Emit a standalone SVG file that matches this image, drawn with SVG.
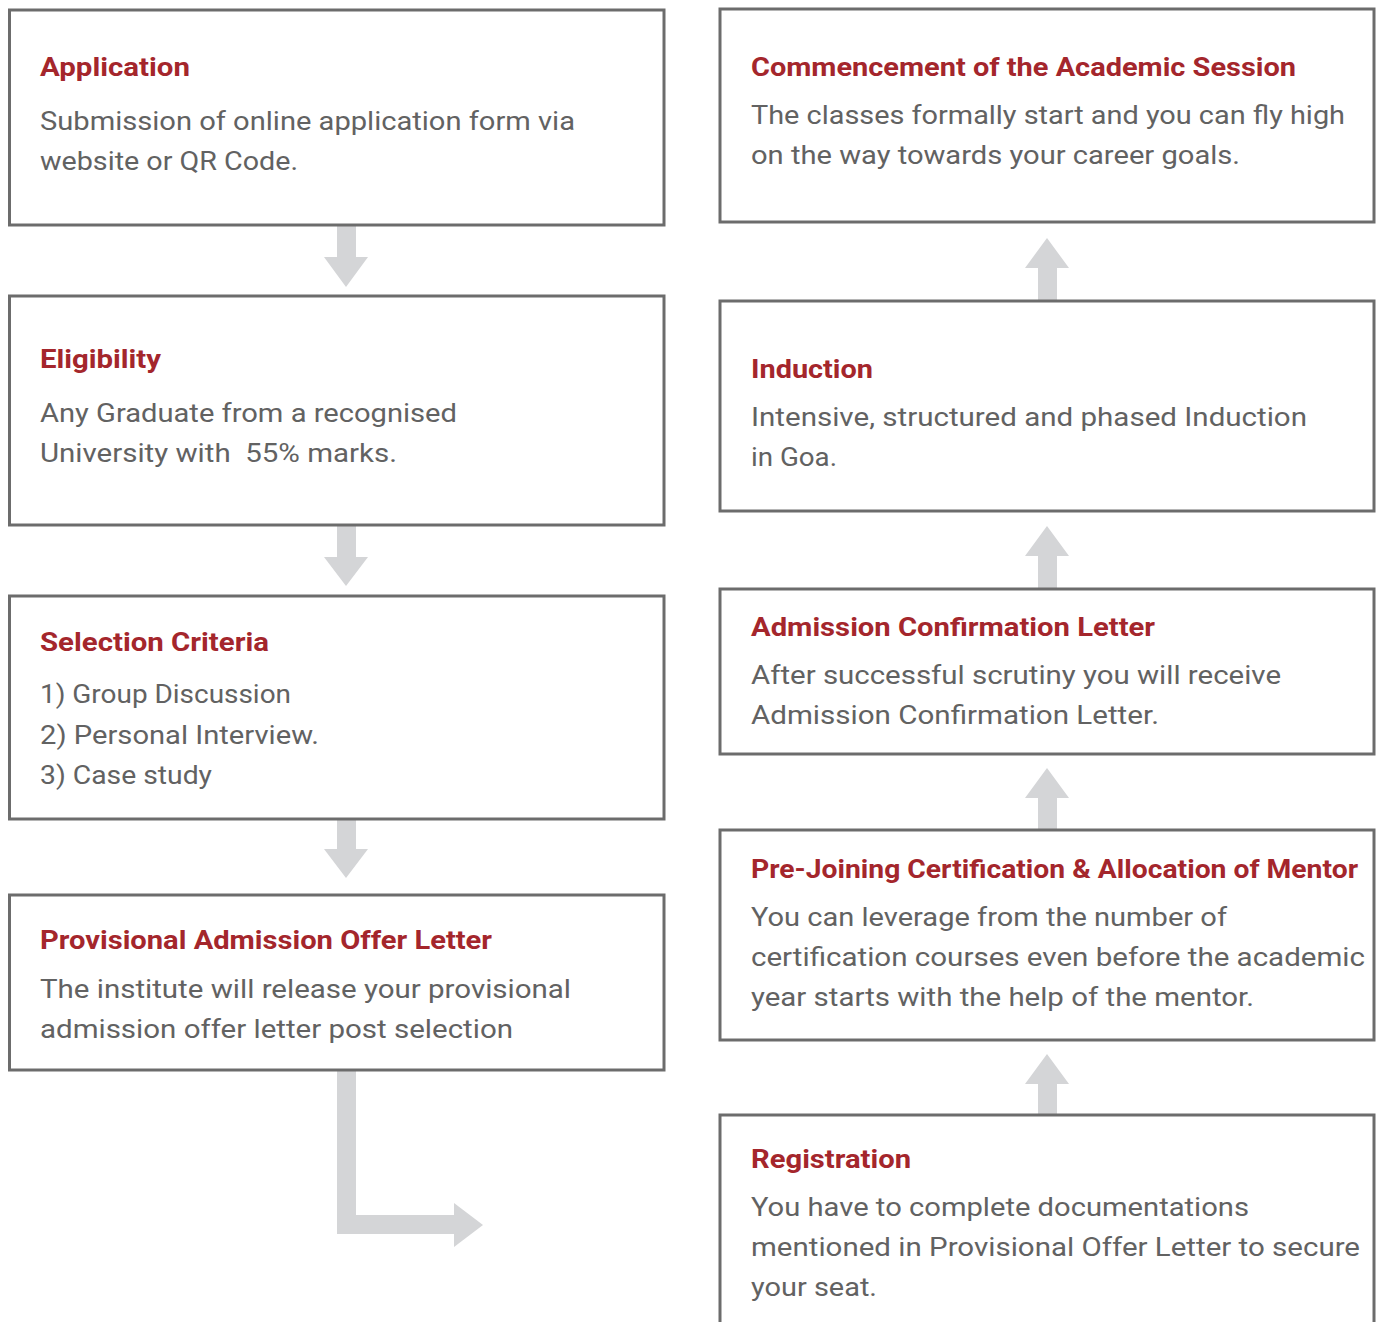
<svg xmlns="http://www.w3.org/2000/svg" width="1381" height="1322" viewBox="0 0 1381 1322">
<style>
.box{fill:#ffffff;stroke:#6c6c6c;stroke-width:3}
.arr{fill:#d4d5d7}
.t{font-family:Roboto,"Liberation Sans",sans-serif;font-weight:700;font-size:25px;fill:#a4262c}
.b{font-family:Roboto,"Liberation Sans",sans-serif;font-size:26px;fill:#626262}
</style>
<rect width="1381" height="1322" fill="#ffffff"/>
<g id="connectors">
<polygon class="arr" points="337,225 356,225 356,257 368,257 346,287 324,257 337,257"/>
<polygon class="arr" points="337,525 356,525 356,557 368,557 346,586 324,557 337,557"/>
<polygon class="arr" points="337,819 356,819 356,849 368,849 346,878 324,849 337,849"/>
<path class="arr" d="M337,1070 V1234 H454 V1247 L483,1225 L454,1203 V1215 H356 V1070 Z"/>
<polygon class="arr" points="1038,301 1057,301 1057,268 1069,268 1047,238 1025,268 1038,268"/>
<polygon class="arr" points="1038,589 1057,589 1057,556 1069,556 1047,526 1025,556 1038,556"/>
<polygon class="arr" points="1038,830 1057,830 1057,798 1069,798 1047,768 1025,798 1038,798"/>
<polygon class="arr" points="1038,1115 1057,1115 1057,1084 1069,1084 1047,1054 1025,1084 1038,1084"/>
</g>
<g id="application">
<rect class="box" x="9.5" y="10" width="654.5" height="215"/>
<text class="t" x="40" y="76" textLength="150" lengthAdjust="spacingAndGlyphs">Application</text>
<text class="b" x="40" y="130" textLength="535" lengthAdjust="spacingAndGlyphs">Submission of online application form via</text>
<text class="b" x="40" y="170" textLength="258" lengthAdjust="spacingAndGlyphs">website or QR Code.</text>
</g>
<g id="eligibility">
<rect class="box" x="9.5" y="296" width="654.5" height="229"/>
<text class="t" x="40" y="368" textLength="121" lengthAdjust="spacingAndGlyphs">Eligibility</text>
<text class="b" x="40" y="422" textLength="417" lengthAdjust="spacingAndGlyphs">Any Graduate from a recognised</text>
<text class="b" x="40" y="462" textLength="357" lengthAdjust="spacingAndGlyphs" xml:space="preserve">University with  55% marks.</text>
</g>
<g id="selection">
<rect class="box" x="9.5" y="596" width="654.5" height="223"/>
<text class="t" x="40" y="651" textLength="229" lengthAdjust="spacingAndGlyphs">Selection Criteria</text>
<text class="b" x="40" y="703" textLength="251" lengthAdjust="spacingAndGlyphs">1) Group Discussion</text>
<text class="b" x="40" y="744" textLength="279" lengthAdjust="spacingAndGlyphs">2) Personal Interview.</text>
<text class="b" x="40" y="784" textLength="172" lengthAdjust="spacingAndGlyphs">3) Case study</text>
</g>
<g id="provisional">
<rect class="box" x="9.5" y="895" width="654.5" height="175"/>
<text class="t" x="40" y="949" textLength="452" lengthAdjust="spacingAndGlyphs">Provisional Admission Offer Letter</text>
<text class="b" x="40" y="998" textLength="531" lengthAdjust="spacingAndGlyphs">The institute will release your provisional</text>
<text class="b" x="40" y="1038" textLength="473" lengthAdjust="spacingAndGlyphs">admission offer letter post selection</text>
</g>
<g id="commencement">
<rect class="box" x="720" y="9" width="654" height="213"/>
<text class="t" x="751" y="76" textLength="545" lengthAdjust="spacingAndGlyphs">Commencement of the Academic Session</text>
<text class="b" x="751" y="124" textLength="594" lengthAdjust="spacingAndGlyphs">The classes formally start and you can fly high</text>
<text class="b" x="751" y="164" textLength="489" lengthAdjust="spacingAndGlyphs">on the way towards your career goals.</text>
</g>
<g id="induction">
<rect class="box" x="720" y="301" width="654" height="210"/>
<text class="t" x="751" y="378" textLength="122" lengthAdjust="spacingAndGlyphs">Induction</text>
<text class="b" x="751" y="426" textLength="556" lengthAdjust="spacingAndGlyphs">Intensive, structured and phased Induction</text>
<text class="b" x="751" y="466" textLength="86" lengthAdjust="spacingAndGlyphs">in Goa.</text>
</g>
<g id="confirmation">
<rect class="box" x="720" y="589" width="654" height="165"/>
<text class="t" x="751" y="636" textLength="404" lengthAdjust="spacingAndGlyphs">Admission Confirmation Letter</text>
<text class="b" x="751" y="684" textLength="530" lengthAdjust="spacingAndGlyphs">After successful scrutiny you will receive</text>
<text class="b" x="751" y="724" textLength="408" lengthAdjust="spacingAndGlyphs">Admission Confirmation Letter.</text>
</g>
<g id="prejoining">
<rect class="box" x="720" y="830" width="654" height="210"/>
<text class="t" x="751" y="878" textLength="607" lengthAdjust="spacingAndGlyphs">Pre-Joining Certification &amp; Allocation of Mentor</text>
<text class="b" x="751" y="926" textLength="476" lengthAdjust="spacingAndGlyphs">You can leverage from the number of</text>
<text class="b" x="751" y="966" textLength="614" lengthAdjust="spacingAndGlyphs">certification courses even before the academic</text>
<text class="b" x="751" y="1006" textLength="503" lengthAdjust="spacingAndGlyphs">year starts with the help of the mentor.</text>
</g>
<g id="registration">
<rect class="box" x="720" y="1115" width="654" height="230"/>
<text class="t" x="751" y="1168" textLength="160" lengthAdjust="spacingAndGlyphs">Registration</text>
<text class="b" x="751" y="1216" textLength="498" lengthAdjust="spacingAndGlyphs">You have to complete documentations</text>
<text class="b" x="751" y="1256" textLength="609" lengthAdjust="spacingAndGlyphs">mentioned in Provisional Offer Letter to secure</text>
<text class="b" x="751" y="1296" textLength="126" lengthAdjust="spacingAndGlyphs">your seat.</text>
</g>
</svg>
